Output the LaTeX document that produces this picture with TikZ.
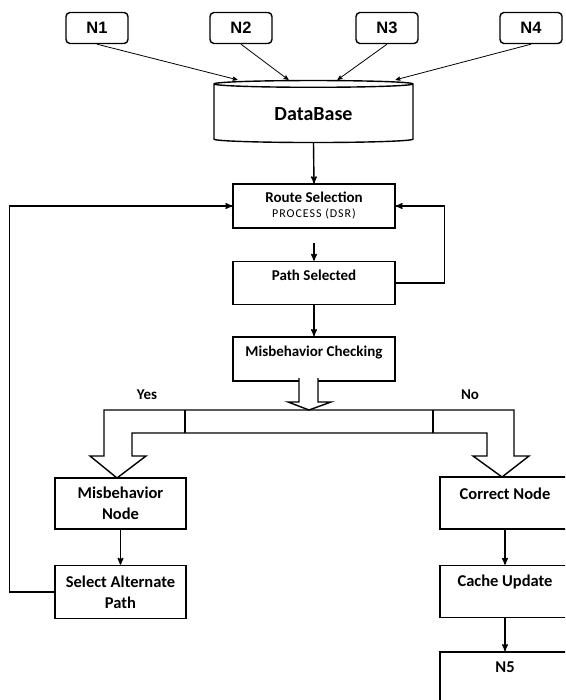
\documentclass[tikz,border=0pt]{standalone}
\usepackage{fontspec}
\setmainfont{Carlito}
\newfontfamily\srcfont{Liberation Sans}
\newfontfamily\procfont[LetterSpace=8]{Carlito}
\usetikzlibrary{arrows, calc, positioning, shapes.geometric}

\begin{document}
\begin{tikzpicture}[x=1pt, y=-1pt, >=stealth', line width=1.4pt, node distance=32pt,
    src node/.style={rectangle, rounded corners=4pt, draw, minimum width=62pt, minimum height=31pt, font=\srcfont\bfseries\fontsize{16.5}{18}\selectfont},
    proc box/.style={rectangle, draw, align=center, font=\bfseries\fontsize{15}{21}\selectfont},
    low box/.style={proc box, font=\bfseries\fontsize{16.5}{21}\selectfont},
    top text/.style 2 args={inner ysep=0pt, text height=#1, text depth=#2}]
    \path[use as bounding box, clip] (0,0) rectangle (565,700);

    % sources and database
    \node[src node] (n1) at (97,28) {N1};
    \node[src node] (n2) at (241,28) {N2};
    \node[src node] (n3) at (387,28) {N3};
    \node[src node] (n4) at (531,28) {N4};
    \node[cylinder, shape border rotate=90, aspect=0.08, draw, minimum width=199pt, minimum height=62pt, font=\bfseries\fontsize{20}{22}\selectfont] (db) at (313.5,114) {DataBase};
    \draw[->, line width=0.8pt] (n1.south) -- ($(db.north)+(-76,0)$);
    \draw[->, line width=0.8pt] (n2.south) -- ($(db.north)+(-25,0)$);
    \draw[->, line width=0.8pt] (n3.south) -- ($(db.north)+(24,0)$);
    \draw[->, line width=0.8pt] (n4.south) -- ($(db.north)+(82,0)$);

    % main chain
    \node[proc box, minimum width=162pt, minimum height=44pt, font=\bfseries\fontsize{15}{15}\selectfont] (route) at (314,206) {Route Selection\\{\procfont\mdseries\fontsize{12}{12}\selectfont PROCESS (DSR)}};
    \node[proc box, top text={19pt}{24pt}, minimum width=162pt] (path) [below=32pt of route] {Path Selected};
    \node[proc box, top text={20pt}{24pt}, minimum width=162pt] (check) [below=31pt of path] {Misbehavior Checking};
    \coordinate (stub) at ($(path.north)+(0,-18)$);
    \draw[->] (db.south) -- (route.north);
    \draw[->] (stub) -- (path.north);
    \draw[->] (path) -- (check);
    \draw[->] (path.east) -- ++(49,0) |- (route.east);

    % yes / no branches
    \node[low box, minimum width=131pt, minimum height=51pt] (misnode) at (120.5,503.5) {Misbehavior\\Node};
    \node[low box, minimum width=131pt, minimum height=53pt] (altpath) [below=35pt of misnode] {Select Alternate\\Path};
    \node[low box, top text={22pt}{30pt}, minimum width=130pt] (correct) at (505,503) {Correct Node};
    \node[low box, top text={21pt}{31pt}, minimum width=130pt] (cache) [below=35pt of correct] {Cache Update};
    \node[low box, top text={21pt}{46pt}, minimum width=130pt] (nfive) [below=33pt of cache] {N5};
    \node[font=\bfseries\fontsize{15}{17}\selectfont] (yes) at (147,395) {Yes};
    \node[font=\bfseries\fontsize{15}{17}\selectfont] (no) at (470,395) {No};
    \draw[->] (misnode) -- (altpath);
    \draw[->] (correct) -- (cache);
    \draw[->] (cache) -- (nfive);
    \draw[->] (altpath.west) -- ++(-45,0) |- (route.west);

    % hollow split arrow
    \draw[fill=white, line join=miter] (299,378) -- (299,402) -- (288,402) -- (309,410) -- (331,402) -- (318,402) -- (318,378);
    \draw[line join=miter] (104,410) -- (104,456) -- (90,456) -- (117,478) -- (146,456) -- (132,456) -- (132,433)
        -- (487,433) -- (487,456) -- (473,456) -- (502,477) -- (529,456) -- (514,456) -- (514,410) -- cycle;
    \draw (185,410) -- (185,433);
    \draw (433,410) -- (433,433);
\end{tikzpicture}
\end{document}
